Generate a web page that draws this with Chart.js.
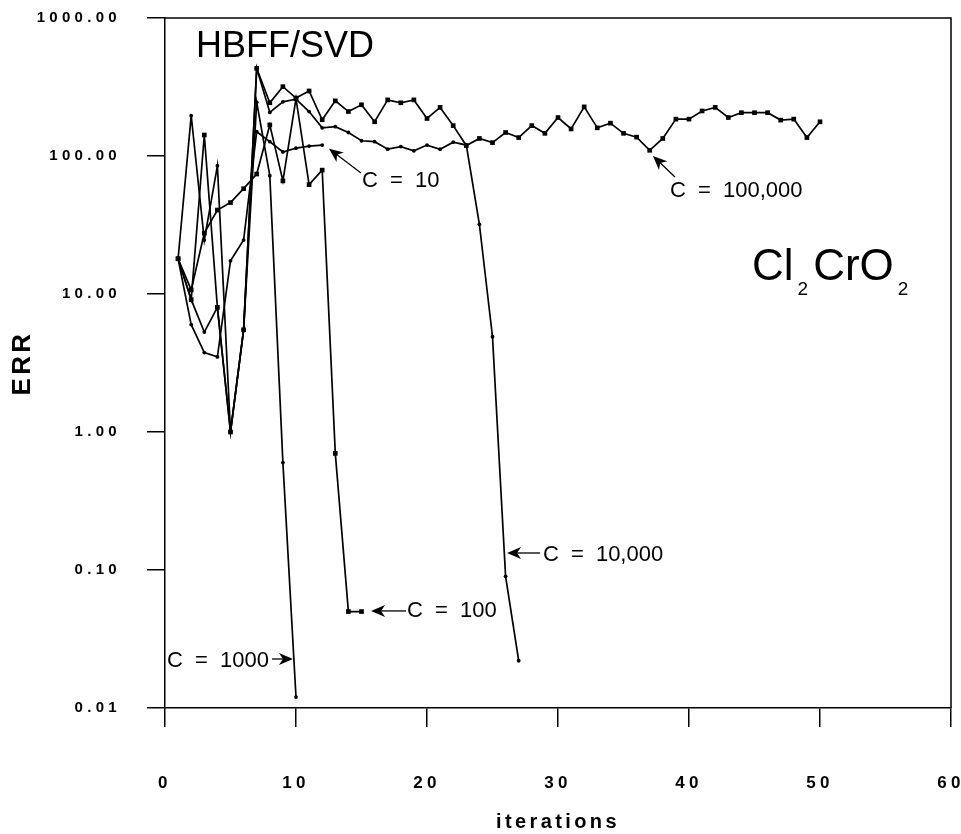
<!DOCTYPE html>
<html><head><meta charset="utf-8">
<script src="https://cdn.jsdelivr.net/npm/chart.js@4.4.0/dist/chart.umd.min.js"></script>
<style>html,body{margin:0;padding:0;background:#fff;}#wrap{width:961px;height:834px;}</style>
</head><body><div id="wrap"><canvas id="c" width="961" height="834"></canvas></div>
<script>
// ---- data (iteration number = index + 1) ----
const iterationTicks = [0, 10, 20, 30, 40, 50, 60];
const errTicks = [0.01, 0.1, 1, 10, 100, 1000];
const seriesNames = ['C = 10', 'C = 100', 'C = 1000', 'C = 10,000', 'C = 100,000'];
const errC10 = [18, 6.0, 3.76, 3.5, 17.4, 24.6, 150, 127, 107, 114, 118, 120];
const errC100 = [18, 10.7, 27.6, 40.6, 46, 58, 74, 168, 66, 260, 62, 79, 0.7, 0.05, 0.05];
const errC1000 = [18, 196, 24.6, 85, 1.0, 5.5, 245, 72, 0.6, 0.012];
const errC10000 = [18, 9.1, 5.3, 8.0, 1.0, 5.5, 432, 207, 247, 258, 210, 160, 163, 148, 129, 127, 112, 117, 109, 120, 112, 126, 120, 32, 4.9, 0.09, 0.022];
const errC100000 = [18, 9.1, 142, 8.0, 1.0, 5.5, 432, 243, 318, 263, 296, 183, 251, 210, 235, 177, 255, 243, 255, 187, 225, 166, 119, 134, 125, 148, 136, 166, 146, 190, 157, 227, 160, 173, 146, 137, 110, 134, 185, 185, 212, 225, 190, 206, 206, 206, 182, 185, 136, 177];

const allSeries = [errC10, errC100, errC1000, errC10000, errC100000];
const markerStyle = ['circle', 'rect', 'circle', 'circle', 'rect'];
const markerRadius = [1.9, 3.3, 1.9, 1.9, 3.3];

const toPoints = arr => arr.map((v, i) => ({x: i + 1, y: v}));

// annotation anchors in data coordinates [iteration, ERR]
const labelNotes = [
  {text: 'C = 10', at: [15.04, 59.6], arrowFrom: [14.96, 75.3], arrowTo: [12.52, 113]},
  {text: 'C = 100,000', at: [38.55, 50.7], arrowFrom: [38.93, 70.5], arrowTo: [37.25, 100]},
  {text: 'C = 100', at: [18.47, 0.0456], arrowFrom: [18.40, 0.0505], arrowTo: [15.73, 0.0505]},
  {text: 'C = 10,000', at: [28.85, 0.116], arrowFrom: [28.63, 0.1328], arrowTo: [26.11, 0.1328]},
  {text: 'C = 1000', at: [0.153, 0.0198], arrowFrom: [8.17, 0.02265], arrowTo: [9.77, 0.02265]}
];
const methodTitle = {text: 'HBFF/SVD', at: [2.37, 526]};
const molecule = {at: [44.81, 12.6]};

const TICK_SPACING = '4.3px';
const TITLE_SPACING = '3.4px';
const FONT = '"Liberation Sans", Arial, Helvetica, sans-serif';

function drawArrow(ctx, x1, y1, x2, y2) {
  const ang = Math.atan2(y2 - y1, x2 - x1);
  ctx.beginPath();
  ctx.moveTo(x1, y1);
  ctx.lineTo(x2 - 8 * Math.cos(ang), y2 - 8 * Math.sin(ang));
  ctx.stroke();
  ctx.save();
  ctx.translate(x2, y2);
  ctx.rotate(ang);
  ctx.beginPath();
  ctx.moveTo(0, 0);
  ctx.lineTo(-14, -6);
  ctx.lineTo(-10, 0);
  ctx.lineTo(-14, 6);
  ctx.closePath();
  ctx.fill();
  ctx.restore();
}

const decorPlugin = {
  id: 'decor',
  beforeUpdate(chart) { chart.ctx.letterSpacing = TICK_SPACING; },
  beforeDraw(chart) { chart.ctx.letterSpacing = TICK_SPACING; },
  afterDatasetsDraw(chart) { chart.ctx.letterSpacing = TITLE_SPACING; },
  afterDraw(chart) {
    const ctx = chart.ctx, xs = chart.scales.x, ys = chart.scales.y, a = chart.chartArea;
    const px = v => xs.getPixelForValue(v), py = v => ys.getPixelForValue(v);
    ctx.save();
    ctx.letterSpacing = '0px';
    ctx.strokeStyle = '#000';
    ctx.fillStyle = '#000';
    ctx.lineWidth = 1.5;
    // frame top & right
    ctx.beginPath();
    ctx.moveTo(a.left, a.top);
    ctx.lineTo(a.right + 0.75, a.top);
    ctx.moveTo(a.right, a.top);
    ctx.lineTo(a.right, a.bottom);
    ctx.stroke();
    // big title
    ctx.textBaseline = 'alphabetic';
    ctx.textAlign = 'left';
    ctx.font = '36px ' + FONT;
    ctx.fillText(methodTitle.text, px(methodTitle.at[0]), py(methodTitle.at[1]));
    // molecule formula Cl2CrO2
    let mx = px(molecule.at[0]);
    const my = py(molecule.at[1]);
    const big = '44px ' + FONT, small = '19px ' + FONT;
    const parts = [['Cl', big, 0], ['2', small, 15], ['CrO', big, 0], ['2', small, 15]];
    parts.forEach(([t, f, dy], k) => {
      ctx.font = f;
      ctx.fillText(t, mx, my + dy);
      mx += ctx.measureText(t).width + (k % 2 === 0 ? 4 : 5);
    });
    // C labels with arrows
    ctx.font = '22px ' + FONT;
    ctx.wordSpacing = '6px';
    ctx.lineWidth = 1.3;
    labelNotes.forEach(n => {
      ctx.fillText(n.text, px(n.at[0]), py(n.at[1]));
      drawArrow(ctx, px(n.arrowFrom[0]), py(n.arrowFrom[1]), px(n.arrowTo[0]), py(n.arrowTo[1]));
    });
    ctx.wordSpacing = '0px';
    ctx.restore();
  }
};

const datasets = allSeries.map((arr, k) => ({
  label: seriesNames[k],
  data: toPoints(arr),
  borderColor: '#000',
  backgroundColor: '#000',
  borderWidth: 1.7,
  pointStyle: markerStyle[k],
  pointRadius: markerRadius[k],
  pointBorderWidth: 0,
  pointBackgroundColor: '#000',
  tension: 0,
  fill: false
}));

new Chart(document.getElementById('c'), {
  type: 'line',
  data: {datasets},
  plugins: [decorPlugin],
  options: {
    responsive: false,
    animation: false,
    devicePixelRatio: 1,
    layout: {padding: {top: 18, right: 10, left: 0, bottom: 0}},
    plugins: {legend: {display: false}, tooltip: {enabled: false}},
    scales: {
      x: {
        type: 'linear', min: 0, max: 60, position: 'bottom',
        afterBuildTicks: s => { s.ticks = iterationTicks.map(v => ({value: v})); },
        afterFit: s => { s.height = 126; s.paddingLeft = 0; s.paddingRight = 0; },
        grid: {drawOnChartArea: false, drawTicks: true, tickLength: 19, color: '#000', lineWidth: 1.5, z: 1},
        border: {display: true, color: '#000', width: 1.5, z: 1},
        ticks: {color: '#000', font: {family: FONT, weight: 'bold', size: 17}, padding: 46, maxRotation: 0, autoSkip: false, z: 0},
        title: {display: true, text: 'iterations', color: '#000', font: {family: FONT, weight: 'bold', size: 20, lineHeight: 1.2}, padding: {top: 0, bottom: 0}}
      },
      y: {
        type: 'logarithmic', min: 0.01, max: 1000, position: 'left',
        afterBuildTicks: s => { s.ticks = errTicks.map(v => ({value: v})); },
        afterFit: s => { s.width = 165; s.paddingTop = 0; s.paddingBottom = 0; },
        grid: {drawOnChartArea: false, drawTicks: true, tickLength: 18, color: '#000', lineWidth: 1.5, z: 1},
        border: {display: true, color: '#000', width: 1.5, z: 1},
        ticks: {color: '#000', font: {family: FONT, weight: 'bold', size: 15}, padding: 26, autoSkip: false, z: 0,
                callback: v => Number(v).toFixed(2)},
        title: {display: true, text: 'ERR', color: '#000', font: {family: FONT, weight: 'bold', size: 26, lineHeight: 1.2}, padding: {top: 7, bottom: 0}}
      }
    }
  }
});
</script></body></html>
